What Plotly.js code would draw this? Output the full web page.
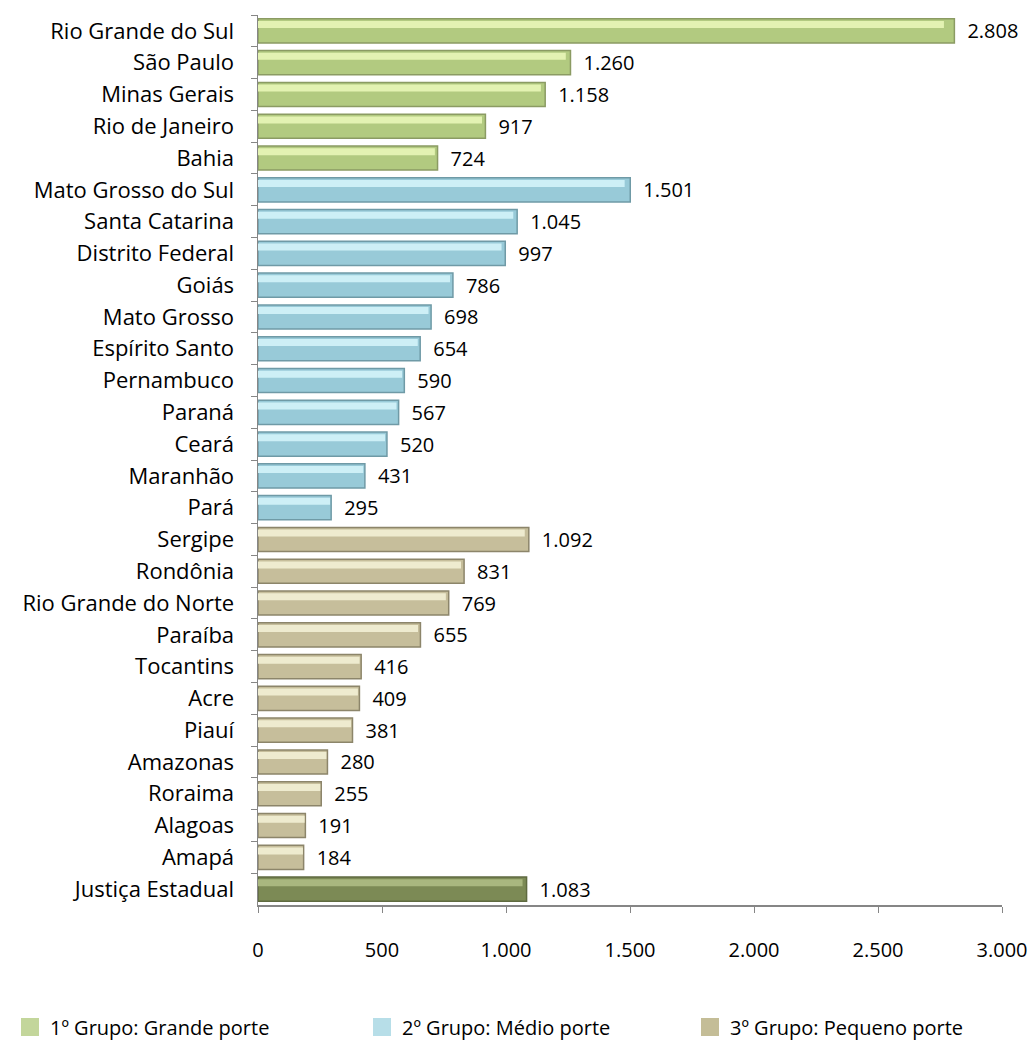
<!DOCTYPE html>
<html>
<head>
<meta charset="utf-8">
<script src="https://cdn.plot.ly/plotly-3.0.1.min.js"></script>
<style>html,body{margin:0;padding:0;background:#fff;}#chart{width:1035px;height:1042px;}</style>
</head>
<body>
<div id="chart"></div>
<script>
const categories = ["Rio Grande do Sul","São Paulo","Minas Gerais","Rio de Janeiro","Bahia",
  "Mato Grosso do Sul","Santa Catarina","Distrito Federal","Goiás","Mato Grosso","Espírito Santo",
  "Pernambuco","Paraná","Ceará","Maranhão","Pará",
  "Sergipe","Rondônia","Rio Grande do Norte","Paraíba","Tocantins","Acre","Piauí","Amazonas",
  "Roraima","Alagoas","Amapá","Justiça Estadual"];
const group1 = ["Rio Grande do Sul","São Paulo","Minas Gerais","Rio de Janeiro","Bahia"];
const group1Values = [2808,1260,1158,917,724];
const group2 = ["Mato Grosso do Sul","Santa Catarina","Distrito Federal","Goiás","Mato Grosso","Espírito Santo","Pernambuco","Paraná","Ceará","Maranhão","Pará"];
const group2Values = [1501,1045,997,786,698,654,590,567,520,431,295];
const group3 = ["Sergipe","Rondônia","Rio Grande do Norte","Paraíba","Tocantins","Acre","Piauí","Amazonas","Roraima","Alagoas","Amapá"];
const group3Values = [1092,831,769,655,416,409,381,280,255,191,184];
const totalCat = ["Justiça Estadual"];
const totalValues = [1083];
const seriesNames = ["1º Grupo: Grande porte","2º Grupo: Médio porte","3º Grupo: Pequeno porte"];
const legendColors = ["#c3d69b","#b7dee8","#c4bd97"];
const xTicks = [0,500,1000,1500,2000,2500,3000];

const FONT = "Open Sans, Liberation Sans, sans-serif";
function mainBar(y, x, name, fill, line){
  return {type:'bar', orientation:'h', y:y, x:x, name:name, showlegend:false,
    width:0.76, offset:-0.38,
    marker:{color:fill, line:{color:line, width:1.5}},
    texttemplate:'\u2002%{x:,}', textposition:'outside', cliponaxis:false, constraintext:'none',
    textfont:{family:FONT, size:20, color:'#000'}, hoverinfo:'x+y'};
}
function hiBar(y, x, col){
  return {type:'bar', orientation:'h', y:y, x:x.map(v=>v*0.985), showlegend:false,
    width:0.22, offset:-0.31, marker:{color:col, line:{width:0}}, hoverinfo:'skip'};
}
function legendItem(name, col, legendId){
  return {type:'scatter', mode:'markers', x:[null], y:[null], name:name, showlegend:true,
    legend:legendId, marker:{symbol:'square', size:19, color:col, line:{color:col, width:2}}, hoverinfo:'skip'};
}
const data = [
  mainBar(group1, group1Values, seriesNames[0], '#b2ca80', '#8b9b63'),
  hiBar(group1, group1Values, '#e3f2b2'),
  mainBar(group2, group2Values, seriesNames[1], '#98cad8', '#6f9aa6'),
  hiBar(group2, group2Values, '#cdeff6'),
  mainBar(group3, group3Values, seriesNames[2], '#c6be9b', '#8c856a'),
  hiBar(group3, group3Values, '#eeebcf'),
  mainBar(totalCat, totalValues, 'Justiça Estadual', '#7c8a55', '#5f6a40'),
  hiBar(totalCat, totalValues, '#a9b77f'),
  legendItem(seriesNames[0], legendColors[0], 'legend'),
  legendItem(seriesNames[1], legendColors[1], 'legend2'),
  legendItem(seriesNames[2], legendColors[2], 'legend3')
];
function legendBox(xpx){
  return {orientation:'h', xref:'container', yref:'container', x:xpx/1035, xanchor:'left',
    y:0.0144, yanchor:'middle', font:{family:FONT, size:20, color:'#000'}, itemwidth:30,
    bgcolor:'rgba(0,0,0,0)'};
}
const layout = {
  width:1035, height:1042, margin:{l:258, r:33, t:15, b:137, autoexpand:false},
  paper_bgcolor:'#fff', plot_bgcolor:'#fff',
  barmode:'overlay', separators:',.',
  font:{family:FONT, size:20, color:'#000'},
  xaxis:{range:[0,3000], tickvals:xTicks, tickformat:',', showgrid:false, zeroline:false,
    showline:true, linecolor:'#868686', linewidth:1.5, ticks:'outside', ticklen:6, tickcolor:'#868686',
    ticklabelstandoff:20, tickfont:{family:FONT, size:20, color:'#000'}, automargin:false},
  yaxis:{type:'category', categoryorder:'array', categoryarray:categories, range:[27.5,-0.5],
    showgrid:false, zeroline:false, showline:true, linecolor:'#868686', linewidth:1.5,
    ticks:'outside', ticklen:6, tickcolor:'#868686', tickson:'boundaries', ticklabelstandoff:18,
    tickfont:{family:FONT, size:22, color:'#000'}, automargin:false},
  legend:legendBox(10),
  legend2:legendBox(362),
  legend3:legendBox(690)
};
Plotly.newPlot('chart', data, layout, {displayModeBar:false, staticPlot:true});
</script>
</body>
</html>
